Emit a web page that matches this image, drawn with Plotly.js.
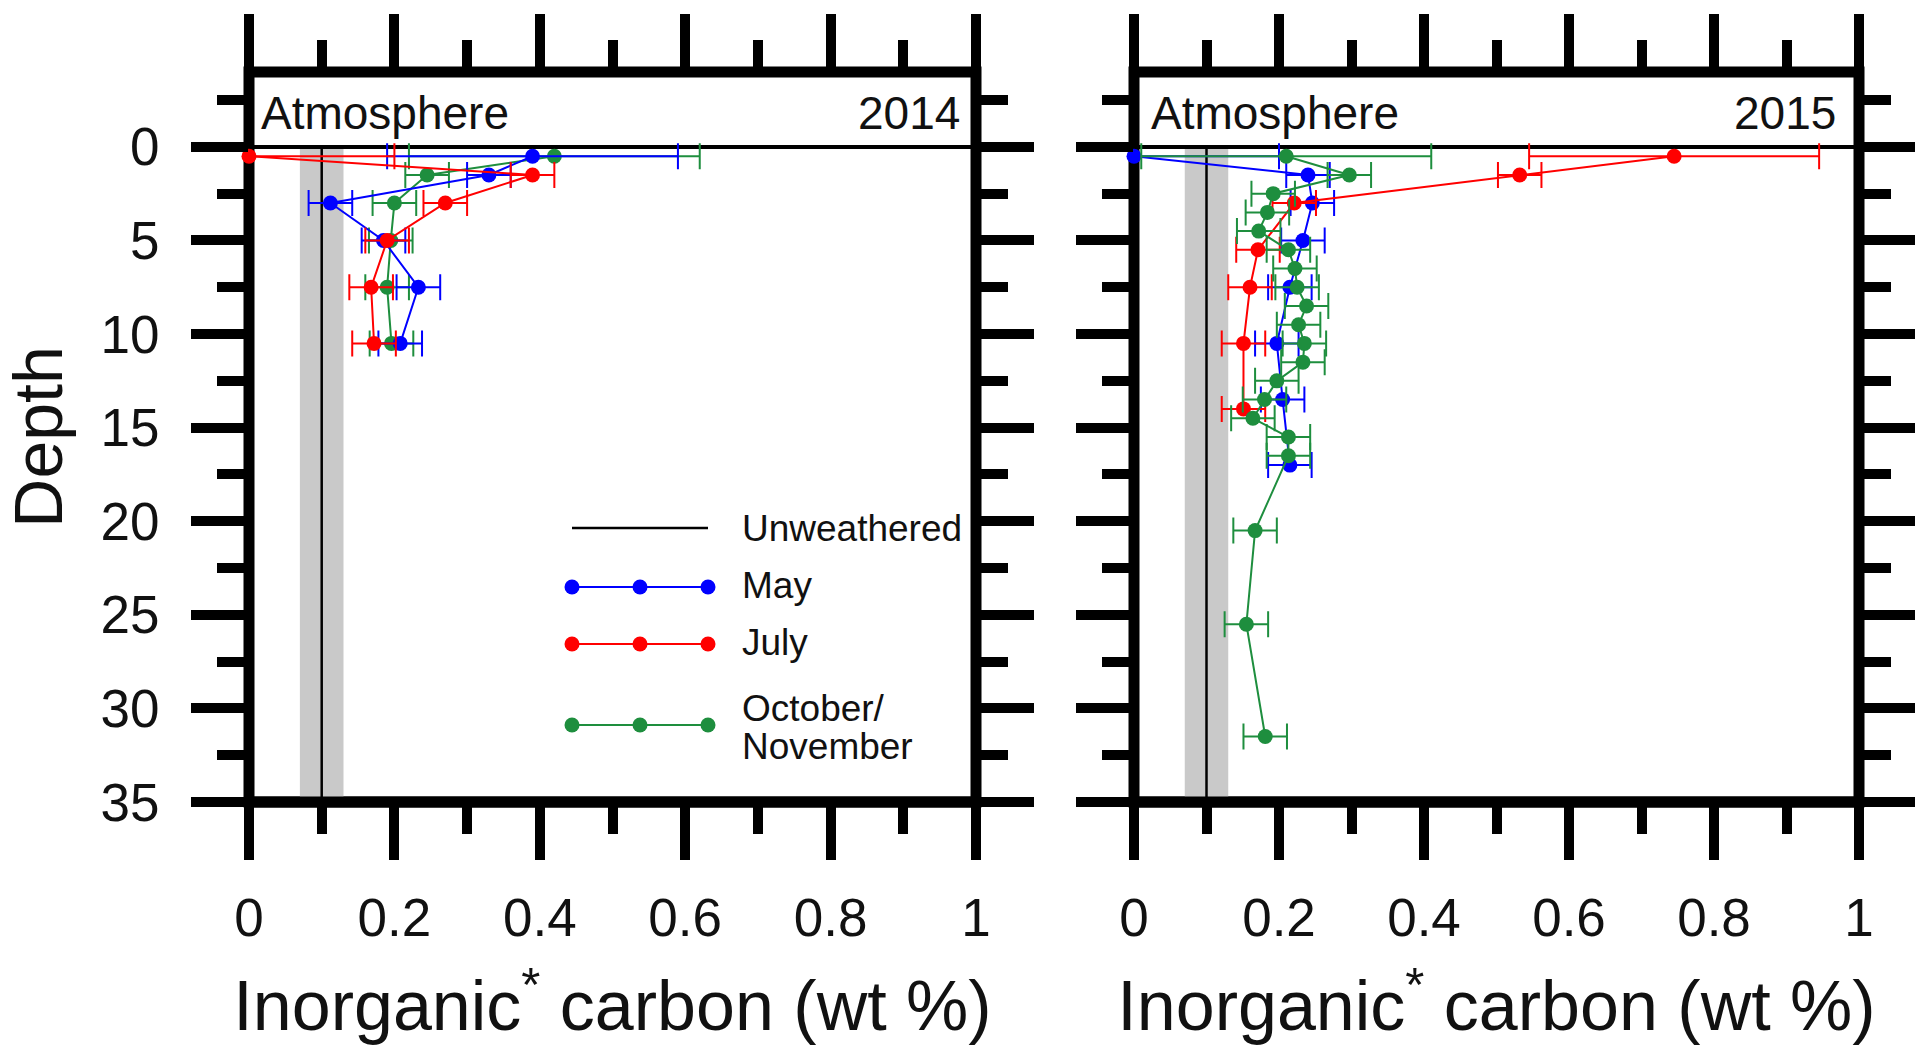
<!DOCTYPE html>
<html>
<head>
<meta charset="utf-8">
<script src="https://cdn.plot.ly/plotly-3.0.1.min.js"></script>
<style>
  html, body { margin: 0; padding: 0; background: #ffffff; }
  #chart { width: 1915px; height: 1045px; }
</style>
</head>
<body>
<div id="chart"></div>
<script>
// ---- Inorganic* carbon depth profiles (wt %), 2014 and 2015 ----

// 2014
const depth2014May = [0.5, 1.5, 3, 5, 7.5, 10.5];
const carbon2014May = [0.39, 0.33, 0.112, 0.185, 0.233, 0.208];
const err2014May = [0.2, 0.03, 0.03, 0.03, 0.03, 0.03];

const depth2014Jul = [0.5, 1.5, 3, 5, 7.5, 10.5];
const carbon2014Jul = [0.0, 0.39, 0.27, 0.19, 0.168, 0.172];
const err2014Jul = [0.2, 0.03, 0.03, 0.03, 0.03, 0.03];

const depth2014Oct = [0.5, 1.5, 3, 5, 7.5, 10.5];
const carbon2014Oct = [0.42, 0.245, 0.2, 0.195, 0.19, 0.196];
const err2014Oct = [0.2, 0.03, 0.03, 0.03, 0.03, 0.03];

// 2015
const depth2015May = [0.5, 1.5, 3, 5, 7.5, 10.5, 13.5, 17];
const carbon2015May = [0.0, 0.24, 0.246, 0.233, 0.215, 0.197, 0.205, 0.215];
const err2015May = [0.2, 0.03, 0.03, 0.03, 0.03, 0.03, 0.03, 0.03];

const depth2015Jul = [0.5, 1.5, 3, 5.5, 7.5, 10.5, 14];
const carbon2015Jul = [0.745, 0.532, 0.221, 0.171, 0.16, 0.151, 0.151];
const err2015Jul = [0.2, 0.03, 0.03, 0.03, 0.03, 0.03, 0.03];

const depth2015Oct = [0.5, 1.5, 2.5, 3.5, 4.5, 5.5, 6.5, 7.5, 8.5, 9.5, 10.5, 11.5,
                      12.5, 13.5, 14.5, 15.5, 16.5, 20.5, 25.5, 31.5];
const carbon2015Oct = [0.21, 0.297, 0.192, 0.184, 0.172, 0.213, 0.222, 0.225, 0.238, 0.227, 0.235, 0.233,
                       0.197, 0.18, 0.164, 0.213, 0.213, 0.167, 0.155, 0.181];
const err2015Oct = [0.2, 0.03, 0.03, 0.03, 0.03, 0.03, 0.03, 0.03, 0.03, 0.03, 0.03, 0.03,
                    0.03, 0.03, 0.03, 0.03, 0.03, 0.03, 0.03, 0.03];

// unweathered reference value and its spread
const unweatheredMean = 0.1;
const unweatheredSd = 0.03;
const unweatheredDepth = [0, 35];

// axes
const carbonRange = [0, 1];
const depthRange = [35, -4];
const carbonTickVals = [0, 0.2, 0.4, 0.6, 0.8, 1];
const carbonTickText = ['0', '0.2', '0.4', '0.6', '0.8', '1'];
const depthTickVals = [0, 5, 10, 15, 20, 25, 30, 35];
const depthTickText = ['0', '5', '10', '15', '20', '25', '30', '35'];

const seriesNames = ['Unweathered', 'May', 'July', 'October/', 'November'];
const panelYears = ['2014', '2015'];

// ---- styling ----
const FONT = 'Liberation Sans, Arial, Helvetica, sans-serif';
const INK = '#111111';
const COL_MAY = '#0000ff';
const COL_JUL = '#ff0000';
const COL_OCT = '#1e8e3e';
const BAND = '#c9c9c9';

const W = 1915, H = 1045;
const M = { l: 249, r: 56, t: 72, b: 243 };
const PW = W - M.l - M.r;
const PH = H - M.t - M.b;
const px = v => (v - M.l) / PW;          // pixel column -> paper fraction
const py = v => (H - M.b - v) / PH;      // pixel row -> paper fraction

function seriesTraces(depths, values, errors, color, xa, ya) {
  return [
    {
      type: 'scatter', mode: 'lines', x: values, y: depths, xaxis: xa, yaxis: ya,
      line: { color: color, width: 2 },
      error_x: { type: 'data', array: errors, visible: true, color: color, thickness: 2, width: 13 },
      hoverinfo: 'skip', showlegend: false
    },
    {
      type: 'scatter', mode: 'markers', x: values, y: depths, xaxis: xa, yaxis: ya,
      marker: { color: color, size: 15, line: { width: 0 } },
      cliponaxis: false, hoverinfo: 'skip', showlegend: false
    }
  ];
}

function unweatheredTrace(xa, ya) {
  return {
    type: 'scatter', mode: 'lines',
    x: [unweatheredMean, unweatheredMean], y: unweatheredDepth,
    xaxis: xa, yaxis: ya,
    line: { color: '#000000', width: 2.5 },
    hoverinfo: 'skip', showlegend: false
  };
}

const traces = [].concat(
  [unweatheredTrace('x', 'y')],
  seriesTraces(depth2014Oct, carbon2014Oct, err2014Oct, COL_OCT, 'x', 'y'),
  seriesTraces(depth2014May, carbon2014May, err2014May, COL_MAY, 'x', 'y'),
  seriesTraces(depth2014Jul, carbon2014Jul, err2014Jul, COL_JUL, 'x', 'y'),
  [unweatheredTrace('x2', 'y2')],
  seriesTraces(depth2015May, carbon2015May, err2015May, COL_MAY, 'x2', 'y2'),
  seriesTraces(depth2015Jul, carbon2015Jul, err2015Jul, COL_JUL, 'x2', 'y2'),
  seriesTraces(depth2015Oct, carbon2015Oct, err2015Oct, COL_OCT, 'x2', 'y2')
);

function carbonAxis(domain, anchor) {
  return {
    domain: domain, anchor: anchor, range: carbonRange, fixedrange: true,
    tickmode: 'array', tickvals: carbonTickVals, ticktext: carbonTickText,
    ticks: 'outside', ticklen: 57, tickwidth: 10, tickcolor: '#000',
    minor: { ticks: 'outside', ticklen: 31, tickwidth: 10, tickcolor: '#000',
             tickmode: 'linear', tick0: 0, dtick: 0.1, showgrid: false },
    mirror: 'allticks', showline: false, showgrid: false, zeroline: false,
    tickfont: { family: FONT, size: 53, color: INK },
    ticklabelstandoff: 12,
    title: { text: 'Inorganic<sup>*</sup> carbon (wt %)',
             font: { family: FONT, size: 70, color: INK }, standoff: 60 }
  };
}

function depthAxis(anchor, withLabels) {
  const ax = {
    domain: [0, 1], anchor: anchor, range: depthRange, fixedrange: true,
    tickmode: 'array', tickvals: depthTickVals, ticktext: depthTickText,
    ticks: 'outside', ticklen: 57, tickwidth: 10, tickcolor: '#000',
    minor: { ticks: 'outside', ticklen: 31, tickwidth: 10, tickcolor: '#000',
             tickmode: 'linear', tick0: 0, dtick: 2.5, showgrid: false },
    mirror: 'allticks', showline: false, showgrid: false,
    zeroline: true, zerolinecolor: '#000', zerolinewidth: 3.5,
    showticklabels: withLabels,
    tickfont: { family: FONT, size: 53, color: INK },
    ticklabelstandoff: 21
  };
  if (withLabels) {
    ax.title = { text: 'Depth', font: { family: FONT, size: 68, color: INK }, standoff: 16 };
  }
  return ax;
}

// frame, unweathered band
const shapes = [];
[['x', 'y'], ['x2', 'y2']].forEach(([xa, ya]) => {
  shapes.push({
    type: 'rect', xref: xa, yref: ya, layer: 'below',
    x0: unweatheredMean - unweatheredSd, x1: unweatheredMean + unweatheredSd,
    y0: unweatheredDepth[0], y1: unweatheredDepth[1],
    fillcolor: BAND, line: { width: 0 }
  });
  shapes.push({
    type: 'rect', xref: xa + ' domain', yref: ya + ' domain', layer: 'below',
    x0: 0, x1: 1, y0: 0, y1: 1, line: { color: '#000', width: 11 }
  });
  shapes.push({
    type: 'line', xref: xa + ' domain', yref: ya + ' domain', layer: 'above',
    x0: 0, x1: 1, y0: 0, y1: 0, line: { color: '#000', width: 11 }
  });
});

// legend keys
const keyX0 = 572, keyX1 = 708, keyTextX = 740;
const keyRows = [
  { y: 528, color: '#000', dots: false },
  { y: 587, color: COL_MAY, dots: true },
  { y: 644, color: COL_JUL, dots: true },
  { y: 725, color: COL_OCT, dots: true }
];
keyRows.forEach(r => {
  shapes.push({
    type: 'line', xref: 'paper', yref: 'paper', layer: 'above',
    x0: px(keyX0), x1: px(keyX1), y0: py(r.y), y1: py(r.y),
    line: { color: r.color, width: r.dots ? 2 : 2.5 }
  });
  if (r.dots) {
    [keyX0, (keyX0 + keyX1) / 2, keyX1].forEach(cx => {
      shapes.push({
        type: 'circle', xref: 'paper', yref: 'paper', layer: 'above',
        xsizemode: 'pixel', ysizemode: 'pixel',
        xanchor: px(cx), yanchor: py(r.y),
        x0: -7.5, x1: 7.5, y0: -7.5, y1: 7.5,
        fillcolor: r.color, line: { width: 0 }
      });
    });
  }
});

function label(text, x, y, anchor, size) {
  return {
    text: text, xref: 'paper', yref: 'paper', x: px(x), y: py(y),
    xanchor: anchor, yanchor: 'middle', showarrow: false,
    font: { family: FONT, size: size, color: INK }
  };
}

const annotations = [
  label('Atmosphere', 259, 113, 'left', 46),
  label(panelYears[0], 962, 113, 'right', 46),
  label('Atmosphere', 1149, 113, 'left', 46),
  label(panelYears[1], 1838, 113, 'right', 46),
  label(seriesNames[0], keyTextX, 528, 'left', 37),
  label(seriesNames[1], keyTextX, 585, 'left', 37),
  label(seriesNames[2], keyTextX, 642, 'left', 37),
  label(seriesNames[3], keyTextX, 708, 'left', 37),
  label(seriesNames[4], keyTextX, 746, 'left', 37)
];

const layout = {
  width: W, height: H,
  margin: { l: M.l, r: M.r, t: M.t, b: M.b, pad: 0 },
  paper_bgcolor: '#ffffff', plot_bgcolor: '#ffffff',
  showlegend: false,
  font: { family: FONT, color: INK },
  xaxis: carbonAxis([0, 727 / PW], 'y'),
  xaxis2: carbonAxis([885 / PW, 1], 'y2'),
  yaxis: depthAxis('x', true),
  yaxis2: depthAxis('x2', false),
  shapes: shapes,
  annotations: annotations
};

Plotly.newPlot('chart', traces, layout, { staticPlot: true, displayModeBar: false });
</script>
</body>
</html>
